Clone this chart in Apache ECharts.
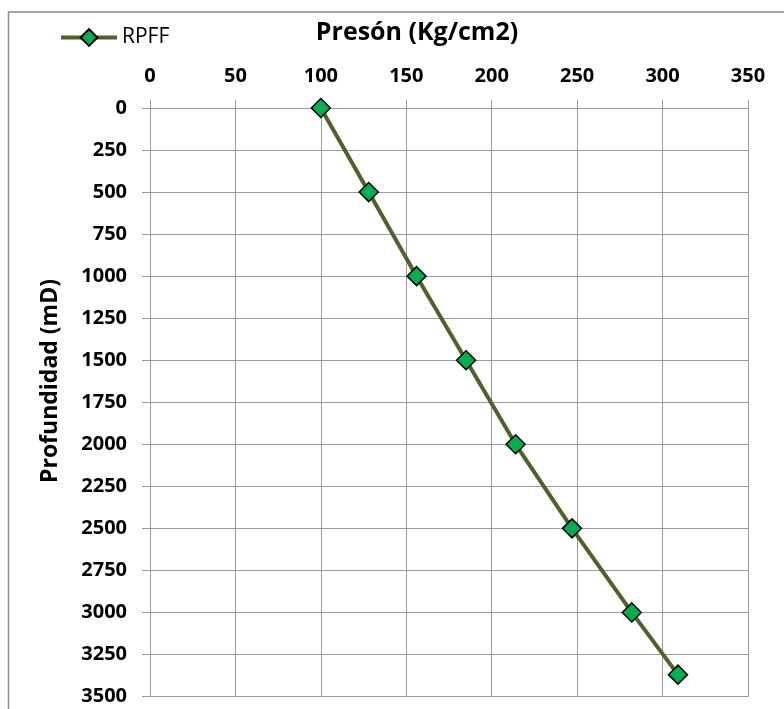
<!DOCTYPE html>
<html>
<head>
<meta charset="utf-8">
<script src="https://cdn.jsdelivr.net/npm/echarts@6/dist/echarts.min.js"></script>
<style>
html,body{margin:0;padding:0;background:#fff;}
#chart{width:784px;height:709px;}
</style>
</head>
<body>
<div id="chart"></div>
<script>
const seriesName = 'RPFF';
const pressure = [100, 128, 156, 185, 214, 247, 282, 309];
const depth = [0, 500, 1000, 1500, 2000, 2500, 3000, 3370];
const xTitle = 'Presón (Kg/cm2)';
const yTitle = 'Profundidad (mD)';

const FONT = 'Open Sans';
const chart = echarts.init(document.getElementById('chart'), null, {renderer: 'canvas'});
const data = pressure.map((p, i) => [p, depth[i]]);

chart.setOption({
  animation: false,
  backgroundColor: '#fff',
  grid: {left: 150, top: 108, width: 598, height: 588.5, containLabel: false},
  legend: {
    data: [seriesName],
    left: 54, top: 22,
    itemWidth: 56, itemHeight: 21, itemGap: 4,
    lineStyle: {width: 4},
    textStyle: {fontFamily: FONT, fontSize: 21, color: '#000'}
  },
  graphic: [
    {type: 'rect', shape: {x: 8.5, y: 12, width: 800, height: 720}, style: {fill: 'none', stroke: '#8c8c8c', lineWidth: 1.5}, silent: true, z: -1},
    {type: 'text', x: 417, y: 33, style: {text: xTitle, font: 'bold 25px "Open Sans"', fill: '#000', align: 'center', verticalAlign: 'middle'}},
    {type: 'text', x: 50, y: 381, rotation: Math.PI / 2, style: {text: yTitle, font: 'bold 23px "Open Sans"', fill: '#000', align: 'center', verticalAlign: 'middle'}}
  ],
  xAxis: {
    type: 'value', position: 'top', min: 0, max: 350, interval: 50,
    axisLine: {show: true, lineStyle: {color: '#999', width: 1}},
    axisTick: {show: true, length: 8, lineStyle: {color: '#999'}},
    splitLine: {show: true, lineStyle: {color: '#999', width: 1}},
    axisLabel: {fontFamily: FONT, fontWeight: 'bold', fontSize: 20, color: '#000', margin: 22, formatter: v => String(v)}
  },
  yAxis: {
    type: 'value', inverse: true, min: 0, max: 3500, interval: 250,
    axisLine: {show: true, lineStyle: {color: '#999', width: 1}},
    axisTick: {show: true, length: 8, lineStyle: {color: '#999'}},
    splitLine: {show: true, lineStyle: {color: '#999', width: 1}},
    axisLabel: {fontFamily: FONT, fontWeight: 'bold', fontSize: 20, color: '#000', margin: 23, formatter: v => String(v)}
  },
  series: [{
    name: seriesName,
    type: 'line',
    data: data,
    symbol: 'diamond',
    symbolSize: 19,
    lineStyle: {color: '#4F6228', width: 4},
    itemStyle: {color: '#00B050', borderColor: '#000', borderWidth: 1.5},
    z: 5
  }]
});
</script>
</body>
</html>
